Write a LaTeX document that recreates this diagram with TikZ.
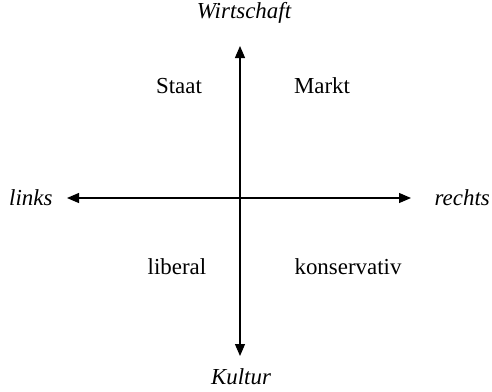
\documentclass[tikz,border=0pt]{standalone}
\usepackage{fontspec}
\setmainfont{Liberation Serif}
\usetikzlibrary{arrows.meta}
\begin{document}
\begin{tikzpicture}[x=1bp,y=-1bp,
  lbl/.style={font=\fontsize{23}{26}\selectfont, inner sep=0pt},
  axis/.style={line width=1.2bp, -{Triangle[length=12bp,width=10bp]}}]
\useasboundingbox (0,0) rectangle (492,391);
\node[lbl] (w) at (244,13) {\itshape Wirtschaft};
\node[lbl] (k) at (241,377) {\itshape Kultur};
\node[lbl,anchor=west] (l) at (9,198) {\itshape links};
\node[lbl,anchor=east] (r) at (490,198) {\itshape rechts};
\node[lbl] (s) at (179,86) {Staat};
\node[lbl] (m) at (322,86) {Markt};
\node[lbl] (lib) at (177,267) {liberal};
\node[lbl] (kon) at (348,267) {konservativ};
\coordinate (c) at (240,198);
\coordinate (t) at (240,46);
\coordinate (b) at (240,356);
\coordinate (le) at (67,198);
\coordinate (re) at (411,198);
\draw[axis] (c) -- (t);
\draw[axis] (c) -- (b);
\draw[axis] (c) -- (le);
\draw[axis] (c) -- (re);
\end{tikzpicture}
\end{document}
